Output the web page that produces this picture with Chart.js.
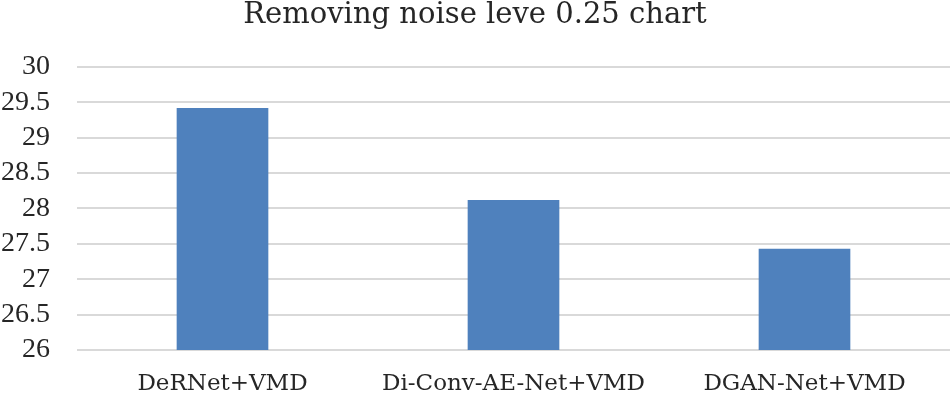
<!DOCTYPE html>
<html>
<head>
<meta charset="utf-8">
<script src="https://cdn.jsdelivr.net/npm/chart.js@4.4.1/dist/chart.umd.min.js"></script>
<style>
html,body{margin:0;padding:0;background:#fff;}
#wrap{width:950px;height:396px;}
</style>
</head>
<body>
<div id="wrap"><canvas id="c" width="950" height="396"></canvas></div>
<script>
const categories = ["DeRNet+VMD", "Di-Conv-AE-Net+VMD", "DGAN-Net+VMD"];
const values = [29.42, 28.12, 27.43];
const yMin = 26, yMax = 30, yStep = 0.5;
const titleText = "Removing noise leve 0.25 chart";

const FONT = "'DejaVu Serif', 'Liberation Serif', serif";
const NUMFONT = "'Liberation Serif', 'DejaVu Serif', serif";
new Chart(document.getElementById('c'), {
  type: 'bar',
  data: {
    labels: categories,
    datasets: [{
      data: values,
      backgroundColor: '#4f81bd',
      borderWidth: 0,
      categoryPercentage: 1,
      barPercentage: 0.315
    }]
  },
  options: {
    responsive: false,
    animation: false,
    devicePixelRatio: 1,
    layout: { padding: { left: 0, right: 0, top: 0, bottom: 0 } },
    plugins: {
      legend: { display: false },
      tooltip: { enabled: false },
      title: {
        display: true,
        text: titleText,
        color: '#262626',
        font: { family: FONT, size: 29, weight: 'normal', lineHeight: 1.1 },
        padding: { top: 0, bottom: 35 }
      }
    },
    scales: {
      x: {
        afterFit: (s) => { s.height = 46; },
        grid: { display: false, drawTicks: false },
        border: { display: false },
        ticks: {
          color: '#262626',
          font: { family: FONT, size: 23, lineHeight: 1 },
          padding: 23,
          maxRotation: 0
        }
      },
      y: {
        min: yMin,
        max: yMax,
        afterFit: (s) => { s.width = 77; },
        grid: { color: '#d9d9d9', lineWidth: 2, drawTicks: false },
        border: { display: false },
        ticks: {
          stepSize: yStep,
          autoSkip: false,
          color: '#262626',
          font: { family: NUMFONT, size: 28, lineHeight: 1 },
          padding: 27,
          callback: (v) => String(v)
        }
      }
    }
  }
});
</script>
</body>
</html>
